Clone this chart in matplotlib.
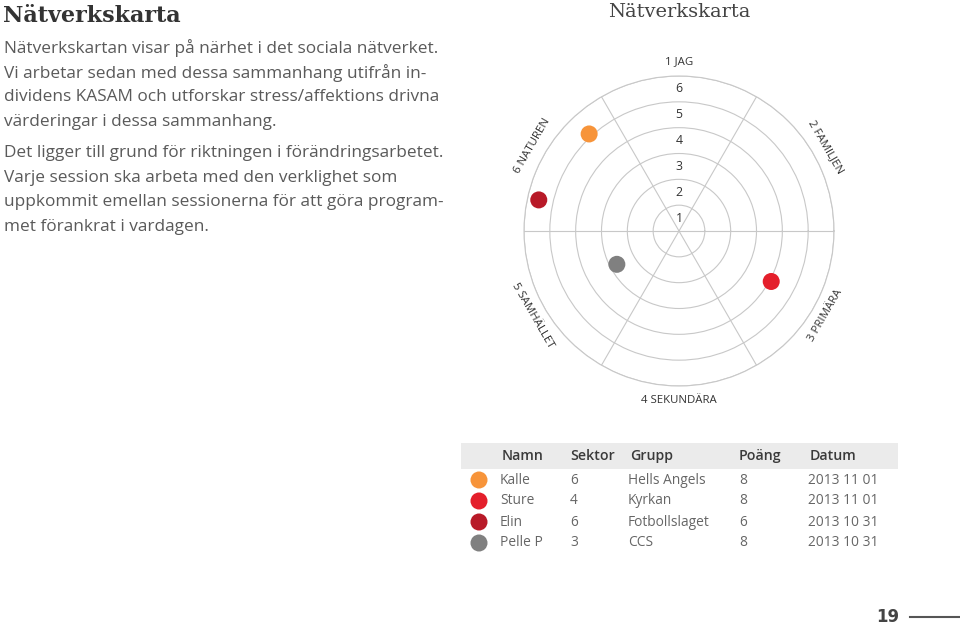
import numpy as np
import matplotlib.pyplot as plt
from matplotlib.patches import Rectangle

# --- data -------------------------------------------------------------
title = 'Nätverkskarta'
para1 = ['Nätverkskartan visar på närhet i det sociala nätverket.',
         'Vi arbetar sedan med dessa sammanhang utifrån in-',
         'dividens KASAM och utforskar stress/affektions drivna',
         'värderingar i dessa sammanhang.']
para2 = ['Det ligger till grund för riktningen i förändringsarbetet.',
         'Varje session ska arbeta med den verklighet som',
         'uppkommit emellan sessionerna för att göra program-',
         'met förankrat i vardagen.']

sectors = ['1 JAG', '2 FAMILJEN', '3 PRIMÄRA', '4 SEKUNDÄRA', '5 SAMHÄLLET', '6 NATUREN']
sector_angle = [90, 30, -30, -90, -150, 150]
rings = [1, 2, 3, 4, 5, 6]

names = ['Kalle', 'Sture', 'Elin', 'Pelle P']
sektor = ['6', '4', '6', '3']
grupp = ['Hells Angels', 'Kyrkan', 'Fotbollslaget', 'CCS']
poang = ['8', '8', '6', '8']
datum = ['2013 11 01', '2013 11 01', '2013 10 31', '2013 10 31']
colors = ['#f7943a', '#e41f2b', '#b81a28', '#808080']
# dot positions (angle in degrees, radius in rings)
dot_theta = [132.8, 331.3, 167.5, 208.2]
dot_r = [5.12, 4.07, 5.56, 2.73]
draw_order = [0, 2, 3, 1]

txt = '#5a5a5a'
grid = '#c8c8c8'

fig = plt.figure(figsize=(9.6, 6.25), dpi=100)
bg = fig.add_axes([0, 0, 1, 1])
bg.set_xlim(0, 960)
bg.set_ylim(625, 0)
bg.axis('off')

# left text block
bg.text(3, 16, title, fontsize=16, fontweight='bold', family='DejaVu Serif',
        color='#333333', va='center')
for i, line in enumerate(para1):
    bg.text(4, 48 + i * 24.6, line, fontsize=12.4, family='Open Sans', color=txt, va='center')
for i, line in enumerate(para2):
    bg.text(4, 153 + i * 24.6, line, fontsize=12.4, family='Open Sans', color=txt, va='center')

# chart title
bg.text(679, 12, title, fontsize=14, family='DejaVu Serif', color='#444444',
        ha='center', va='center')

# polar map
ax = fig.add_axes([524 / 960, 239 / 625, 310 / 960, 310 / 625], projection='polar')
ax.set_ylim(0, 6)
ax.set_yticks(rings)
ax.set_yticklabels([])
ax.set_xticks(np.deg2rad([0, 60, 120, 180, 240, 300]))
ax.set_xticklabels([])
ax.grid(color=grid, linewidth=0.8)
ax.spines['polar'].set_color(grid)
ax.spines['polar'].set_linewidth(0.8)
ax.set_facecolor('none')

for k in rings:
    ax.text(np.pi / 2, k - 0.5, str(k), fontsize=8.8, family='Open Sans', color='#333333',
            ha='center', va='center')

for lab, a in zip(sectors, sector_angle):
    rot = a - 90 if a > 0 else a + 90
    if a == 90 or a == -90:
        rot = 0
    ax.text(np.deg2rad(a), 6.55, lab, fontsize=8.2, family='Open Sans', color='#333333',
            ha='center', va='center', rotation=rot, rotation_mode='anchor')

for i in draw_order:
    ax.scatter(np.deg2rad(dot_theta[i]), dot_r[i], s=150, color=colors[i],
               edgecolors='none', zorder=5, clip_on=False)

# table
bg.add_patch(Rectangle((461, 443), 437, 26, facecolor='#ebebeb', edgecolor='none'))
heads = ['Namn', 'Sektor', 'Grupp', 'Poäng', 'Datum']
head_x = [502, 570, 630, 739, 810]
for h, x in zip(heads, head_x):
    bg.text(x, 456, h, fontsize=10.2, family='Open Sans', fontweight='semibold',
            color='#3a3a3a', va='center')
col_x = [500, 570, 628, 739, 808]
for i in range(len(names)):
    y = 480 + i * 21
    bg.scatter(479, y, s=150, color=colors[i], edgecolors='none')
    for x, v in zip(col_x, [names[i], sektor[i], grupp[i], poang[i], datum[i]]):
        bg.text(x, y, v, fontsize=9.9, family='Open Sans', color='#666666', va='center')

# page number
bg.text(888, 617, '19', fontsize=12, fontweight='bold', family='DejaVu Sans',
        color='#444444', ha='center', va='center')
bg.plot([910, 960], [617, 617], color='#555555', linewidth=1.5)

fig.savefig('out.png', dpi=100)
